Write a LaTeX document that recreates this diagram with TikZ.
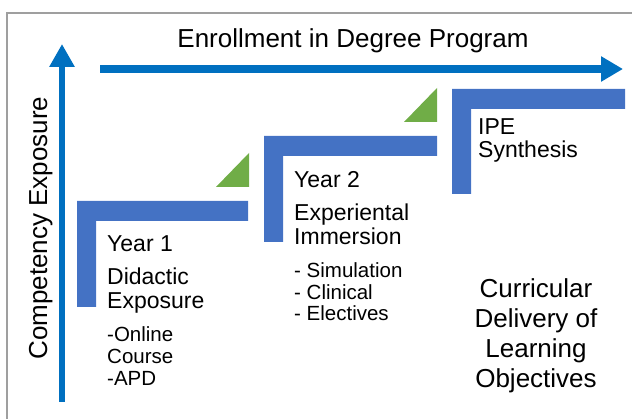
\documentclass[tikz,border=0pt]{standalone}
\usepackage{fontspec}
\setmainfont{Liberation Sans}
\usetikzlibrary{arrows.meta}
\definecolor{stepblue}{HTML}{4472C4}
\definecolor{axisblue}{HTML}{0070C0}
\definecolor{rampgreen}{HTML}{70AD47}

\begin{document}
\begin{tikzpicture}[
    x=1pt, y=-1pt,
    axis/.style={draw=axisblue, line width=8pt, -{Triangle[length=22pt,width=24pt]}},
    heading/.style={font=\fontsize{26}{30}\selectfont, inner sep=0pt},
    phase/.style={anchor=base west, align=left, font=\fontsize{23}{24}\selectfont, inner sep=0pt},
    detail/.style={anchor=base west, align=left, font=\fontsize{20.5}{22}\selectfont, inner sep=0pt}
]
\useasboundingbox (0,0) rectangle (632,419);
\draw[gray!75, line width=1.2pt] (7,419) -- (7,13) -- (632,13);

% axes
\coordinate (yfoot) at (62,402);
\coordinate (ytip) at (62,44);
\coordinate (xfoot) at (100,69);
\coordinate (xtip) at (623,69);
\draw[axis, line width=6pt, -{Triangle[length=23pt,width=24pt]}] (yfoot) -- (ytip);
\draw[axis] (xfoot) -- (xtip);

% steps and ramps
\foreach \xa/\xb/\ya/\yb in {77/248/201/307, 264/437/136/242, 452/625/89/194}
  \fill[stepblue] (\xa,\ya) -- (\xb,\ya) -- (\xb,\ya+20) -- (\xa+19,\ya+20) -- (\xa+19,\yb) -- (\xa,\yb) -- cycle;
\foreach \xb/\ya in {249/201, 437/136}
  \fill[rampgreen] (\xb-33,\ya-14) -- (\xb,\ya-14) -- (\xb,\ya-48) -- cycle;

\node[heading, anchor=base] (title) at (353,48) {Enrollment in Degree Program};
\node[heading, anchor=base, rotate=90] (competency) at (47,228) {Competency Exposure};

% base of a multi-line node = last line
\node[phase] (year1) at (107,252) {Year 1};
\node[phase] (didactic) at (107,309) {Didactic\\Exposure};
\node[detail] (online) at (107,386) {-Online\\Course\\-APD};

\node[phase] (year2) at (294,188) {Year 2};
\node[phase] (immersion) at (294,245) {Experiental\\Immersion};
\node[detail, font=\fontsize{20.5}{21.5}\selectfont] (simulation) at (294,321) {- Simulation\\- Clinical\\- Electives};

\node[phase, font=\fontsize{23}{23}\selectfont] (ipe) at (478,158) {IPE\\Synthesis};

\node[heading, anchor=base, align=center] (curricular) at (536,388) {Curricular\\Delivery of\\Learning\\Objectives};
\end{tikzpicture}
\end{document}
